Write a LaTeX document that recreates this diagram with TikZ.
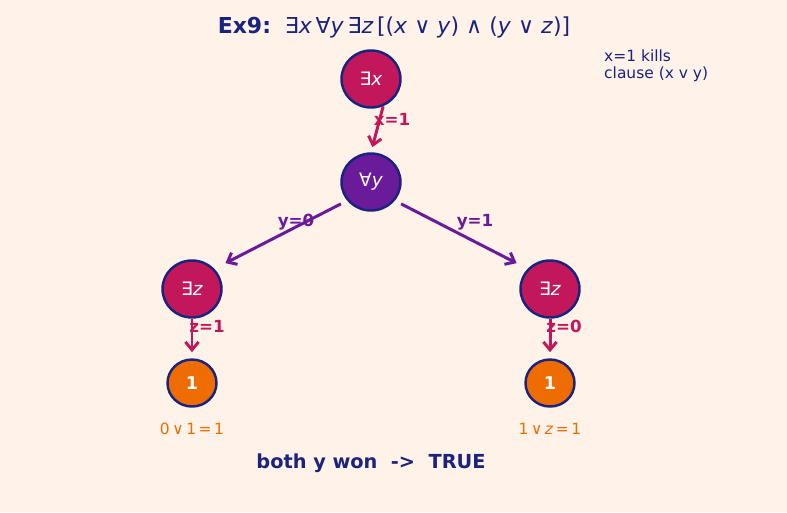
\documentclass[tikz,border=0pt]{standalone}
\usepackage{fontspec}
\setmainfont{DejaVu Sans}
\usetikzlibrary{shapes.geometric, arrows.meta}
\definecolor{bgc}{HTML}{FFF2E8}
\definecolor{navy}{HTML}{1A237E}
\definecolor{mag}{HTML}{C2185B}
\definecolor{purp}{HTML}{6A1B9A}
\definecolor{orng}{HTML}{EF6C00}

\begin{document}
\begin{tikzpicture}[x=0.02cm, y=-0.02cm,
    qnode/.style={ellipse, draw=navy, line width=1.4pt, inner sep=0pt,
      minimum width=1.18cm, minimum height=1.14cm, text=white,
      font=\fontsize{10.5}{12}\selectfont},
    leaf/.style={ellipse, draw=navy, line width=1.4pt, inner sep=0pt,
      minimum width=0.98cm, minimum height=0.94cm, fill=orng, text=white,
      font=\bfseries\fontsize{10}{12}\selectfont},
    arr/.style={-{Straight Barb[length=4.5pt, width=7.5pt]}, line width=1.7pt},
    lbl/.style={font=\bfseries\fontsize{9.5}{11}\selectfont}]
  \fill[bgc] (0,0) rectangle (787,512);
  \useasboundingbox (0,0) rectangle (787,512);

  % title and note
  \node[text=navy, font=\fontsize{12.5}{14}\selectfont] (title) at (394,27)
    {{\bfseries Ex9:}\ \ ∃\textit{x}\,∀\textit{y}\,∃\textit{z}\,[(\textit{x} ∨ \textit{y}) ∧ (\textit{y} ∨ \textit{z})]};
  \node[text=navy, anchor=west, align=left, font=\fontsize{8.8}{9.8}\selectfont] (note) at (598,66)
    {x=1 kills\\clause (x v y)};

  % game tree
  \node[qnode, fill=mag]  (ex) at (371,79)  {∃\textit{x}};
  \node[qnode, fill=purp] (ay) at (371,182) {∀\textit{y}};
  \node[qnode, fill=mag]  (lz) at (192,289) {∃\textit{z}};
  \node[qnode, fill=mag]  (rz) at (550,289) {∃\textit{z}};
  \node[leaf] (lw) at (192,383) {1};
  \node[leaf] (rw) at (550,383) {1};

  \draw[arr, mag, shorten >=3pt] (ex.-66) -- (ay.north);
  \draw[arr, purp, shorten <=4pt, shorten >=7pt] (ay.218) -- (lz.42);
  \draw[arr, purp, shorten <=4pt, shorten >=7pt] (ay.-38) -- (rz.138);
  \draw[arr, mag, shorten >=3.5pt] (lz.south) -- (lw.north);
  \draw[arr, mag, shorten >=3.5pt] (rz.south) -- (rw.north);

  \node[lbl, text=mag]  (lx)  at (392,119) {x=1};
  \node[lbl, text=purp] (ly0) at (296,222) {y=0};
  \node[lbl, text=purp] (ly1) at (475,222) {y=1};
  \node[lbl, text=mag]  (lz1) at (207,326) {z=1};
  \node[lbl, text=mag]  (lz0) at (564,326) {z=0};

  \node[text=orng, font=\fontsize{8.8}{10}\selectfont] (lv) at (192,429)
    {0\,∨\,1\,=\,1};
  \node[text=orng, font=\fontsize{8.8}{10}\selectfont] (rv) at (550,429)
    {1\,∨\,\textit{z}\,=\,1};

  \node[text=navy, font=\bfseries\fontsize{11}{13}\selectfont] (res) at (371,463)
    {both y won\ \ ->\ \ TRUE};
\end{tikzpicture}
\end{document}
